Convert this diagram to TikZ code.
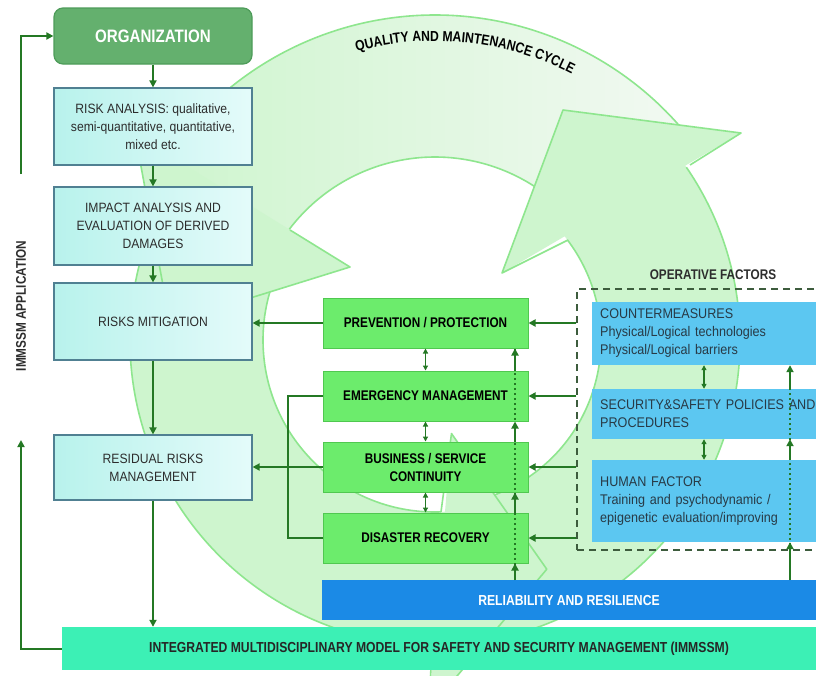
\documentclass[tikz,border=0pt]{standalone}
\usepackage{fontspec}
\setmainfont{Liberation Sans}[FakeStretch=0.9]
\newfontfamily\narrowbold{Liberation Sans}[FakeStretch=0.84]
\usetikzlibrary{calc,arrows.meta,decorations.text}

\definecolor{linkgreen}{RGB}{36,120,36}
\definecolor{orgfill}{RGB}{100,176,110}
\definecolor{orgline}{RGB}{78,156,90}
\definecolor{boxleft}{RGB}{184,242,236}
\definecolor{boxright}{RGB}{228,251,250}
\definecolor{boxline}{RGB}{80,128,146}
\definecolor{phasefill}{RGB}{108,236,108}
\definecolor{phaseline}{RGB}{80,200,80}
\definecolor{factorfill}{RGB}{92,199,241}
\definecolor{relfill}{RGB}{27,138,230}
\definecolor{immfill}{RGB}{60,240,181}
\definecolor{ringfill}{RGB}{206,245,206}
\definecolor{ringpale}{RGB}{242,249,242}
\definecolor{ringline}{RGB}{142,230,142}
\definecolor{dashgray}{RGB}{61,92,61}
\definecolor{textgray}{RGB}{45,45,45}
\definecolor{textblue}{RGB}{40,58,70}

\begin{document}
\begin{tikzpicture}[x=1pt,y=-1pt,
  stage/.style={draw=boxline, line width=1.2pt, left color=boxleft, right color=boxright, text=textgray,
    minimum width=198pt, align=center, font=\fontsize{13.5}{18}\selectfont},
  phase/.style={draw=phaseline, line width=1pt, fill=phasefill, minimum width=205pt, minimum height=50pt,
    align=center, font=\narrowbold\bfseries\fontsize{14}{18}\selectfont},
  factor/.style={fill=factorfill, anchor=west, text width=226pt, inner xsep=8pt, align=left, text=textblue,
    font=\fontsize{14}{18}\selectfont},
  bar/.style={minimum height=40pt, font=\narrowbold\bfseries\fontsize{14.5}{17}\selectfont},
  heading/.style={font=\narrowbold\bfseries\fontsize{14}{17}\selectfont, text=textgray},
  link/.style={draw=linkgreen, line width=2pt, -{Triangle[length=7pt,width=7pt]}},
  twoway/.style={draw=linkgreen, line width=1.3pt, {Triangle[length=5pt,width=5pt]}-{Triangle[length=5pt,width=5pt]}},
  tieline/.style={draw=linkgreen, line width=2pt},
  dotline/.style={draw=linkgreen, line width=2.5pt, dash pattern=on 2.5pt off 2.5pt},
  ringedge/.style={draw=ringline, line width=1.6pt, line join=round}]

\useasboundingbox (0,0) rectangle (816,675);
\clip (0,0) rectangle (816,675);
\fill[white] (0,0) rectangle (816,675);

% cycle in the background
\begin{scope}[shift={(435,340)}]
  % right arrow body
  \fill[ringfill] (85:305) arc[start angle=85, end angle=-38, radius=305]
    -- (-42:166) arc[start angle=-42, end angle=83, radius=166] -- cycle;
  \draw[ringedge] (85:305) arc[start angle=85, end angle=-34.5, radius=305];
  \draw[ringedge] (-37:166) arc[start angle=-37, end angle=83, radius=166];
  % left arrow body
  \fill[ringfill] (-150:305) arc[start angle=-150, end angle=-272, radius=305]
    -- (-276:172) arc[start angle=-276, end angle=-150, radius=172] -- cycle;
  \draw[ringedge] (-150:305) arc[start angle=-150, end angle=-269.5, radius=305];
  \draw[ringedge] (-272:172) arc[start angle=-272, end angle=-150, radius=172];
  % top arrow body
  \fill[left color=ringfill, right color=ringpale] (-40:325) arc[start angle=-40, end angle=-147, radius=325]
    -- (-146:183) arc[start angle=-146, end angle=-40, radius=183] -- cycle;
  \draw[ringedge] (-40:325) arc[start angle=-40, end angle=-145.2, radius=325];
  \draw[ringedge] (-142.8:183) arc[start angle=-142.8, end angle=-40, radius=183];
\end{scope}
% arrow heads
\begin{scope}[shift={(435,340)}, rotate=235]
  \fill[ringfill] (-45:95) -- (-61:255) -- (-34:370) -- cycle;
  \draw[ringedge] (-37:172) -- (-45:95) -- (-61:255) -- (-34:370) -- (-34.5:305);
\end{scope}
\fill[ringfill] (502,273) -- (563,110) -- (741,133) -- cycle;
\draw[ringedge] (568,240) -- (502,273) -- (563,110) -- (741,133) -- (690,165);
\fill[ringfill] (350,267) -- (170,323) -- (135,134) -- cycle;
\draw[ringedge] (290,230) -- (350,267) -- (170,323) -- (135,134) -- (170,156);
\path[decorate, decoration={text along path, text align=center,
    text={|\narrowbold\bfseries\fontsize{14.5}{14}\selectfont|QUALITY AND MAINTENANCE CYCLE}}]
  (435,340) ++(-111:299) arc[start angle=-111, end angle=-57, radius=299];

% left column
\node[rounded corners=9pt, draw=orgline, line width=1.2pt, fill=orgfill, minimum width=198pt, minimum height=56pt,
  text=white, font=\narrowbold\bfseries\fontsize{18}{18}\selectfont] (org) at (153,36) {ORGANIZATION};
\node[stage, minimum height=77pt] (ra) at (153,126.5) {RISK ANALYSIS: qualitative,\\semi-quantitative, quantitative,\\mixed etc.};
\node[stage, minimum height=78pt] (ia) at (153,226) {IMPACT ANALYSIS AND\\EVALUATION OF DERIVED\\DAMAGES};
\node[stage, minimum height=77pt] (rm) at (153,321.5) {RISKS MITIGATION};
\node[stage, minimum height=65pt] (rr) at (153,467.5) {RESIDUAL RISKS\\MANAGEMENT};
\node[heading, rotate=90] (applabel) at (21,306) {IMMSSM APPLICATION};

% middle column
\node[phase] (pp) at (425.5,323) {PREVENTION / PROTECTION};
\node[phase] (em) at (425.5,396) {EMERGENCY MANAGEMENT};
\node[phase] (bs) at (425.5,467) {BUSINESS / SERVICE\\CONTINUITY};
\node[phase] (dr) at (425.5,538) {DISASTER RECOVERY};

% operative factors
\node[draw=dashgray, line width=1.3pt, dash pattern=on 7pt off 5pt, minimum width=300pt, minimum height=261pt] (ofbox) at (727,419.5) {};
\node[heading] (oftitle) at (713,275) {OPERATIVE FACTORS};
\node[factor, minimum height=63pt] (cm) at (592,333.5) {COUNTERMEASURES\\Physical/Logical technologies\\Physical/Logical barriers};
\node[factor, minimum height=50pt] (ss) at (592,414) {SECURITY\&SAFETY POLICIES AND\\PROCEDURES};
\node[factor, minimum height=82pt] (hf) at (592,501) {HUMAN FACTOR\\Training and psychodynamic /\\epigenetic evaluation/improving};

% bars
\node[bar, fill=relfill, minimum width=494pt, text=white] (rel) at (569,600) {RELIABILITY AND RESILIENCE};
\node[bar, fill=immfill, minimum width=754pt, minimum height=43pt, text=black!85] (imm) at (439,648.5)
  {INTEGRATED MULTIDISCIPLINARY MODEL FOR SAFETY AND SECURITY MANAGEMENT (IMMSSM)};

% connectors
\draw[link] (org) -- (ra);
\draw[link] (ra) -- (ia);
\draw[link] (ia) -- (rm);
\draw[link] (rm) -- (rr);
\draw[link] (rr.south) -- (rr.south |- imm.north);
\coordinate (fbtop) at (21,440);
\coordinate (fbfoot) at (21,174);
\draw[link] (imm.west) -| (fbtop);
\draw[link] (fbfoot) |- (org.west);

\draw[link] (pp.west) -- (pp.west -| rm.east);
\draw[link] (bs.west) -- (bs.west -| rr.east);
\draw[tieline] (em.west) -- ++(-35,0) |- (dr.west);
\foreach \a/\b in {pp/em,em/bs,bs/dr}
  \draw[twoway] (\a.south) -- (\b.north);
\foreach \n in {pp,em,bs,dr}
  \draw[link] (ofbox.west |- \n.east) -- (\n.east);

\coordinate (pairx) at (704,0);
\foreach \a/\b in {cm/ss,ss/hf}
  \draw[twoway] (pairx |- \a.south) -- (pairx |- \b.north);

\coordinate (upm) at (515,580);
\coordinate (upr) at (790,580);
\draw[dotline] (upm) -- (upm |- pp.south);
\draw[dotline] (upr) -- (upr |- cm.south);
\draw[link] (upm) -- (upm |- dr.south);
\foreach \lo/\hi in {dr/bs,bs/em,em/pp}
  \draw[link] (upm |- \lo.north) -- (upm |- \hi.south);
\draw[link] (upr) -- (upr |- hf.south);
\foreach \lo/\hi in {hf/ss,ss/cm}
  \draw[link] (upr |- \lo.north) -- (upr |- \hi.south);
\end{tikzpicture}
\end{document}
